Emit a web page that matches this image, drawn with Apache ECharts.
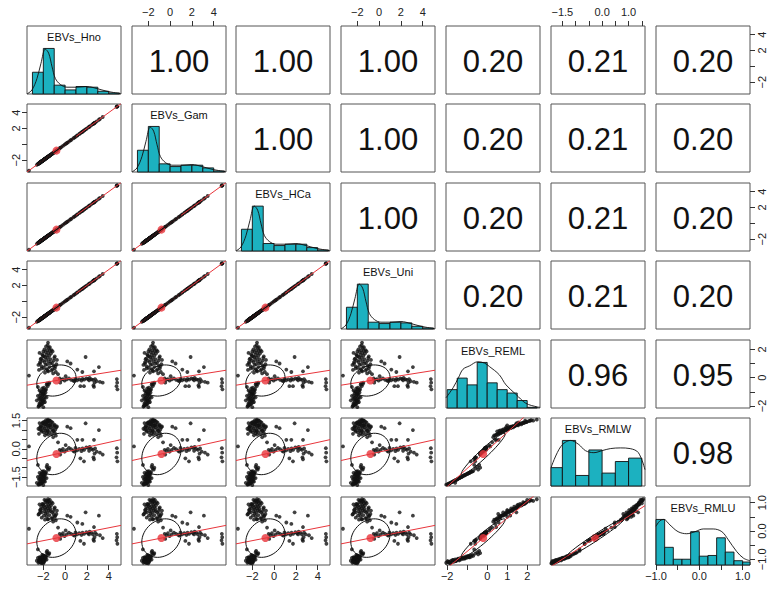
<!DOCTYPE html>
<html><head><meta charset="utf-8">
<script src="https://cdn.jsdelivr.net/npm/echarts@6/dist/echarts.min.js"></script>
<style>html,body{margin:0;padding:0;background:#fff}#c{width:775px;height:590px}</style>
</head><body><div id="c"></div>
<script>
// ---------------- DATA ----------------
const varNames = ['EBVs_Hno','EBVs_Gam','EBVs_HCa','EBVs_Uni','EBVs_REML','EBVs_RMLW','EBVs_RMLU'];

// Individual EBVs. Hno/Gam/HCa/Uni coincide (r = 1.00).
const ebvHno = [
  -2.45,-2.30,-2.20,-2.10,-2.35,-1.95,-2.25,-2.05,-2.15,-1.90,-2.40,-2.00,-2.20,-1.85,-2.10,-2.30,-1.95,-2.05,-2.25,-1.80,-2.15,-1.90,-2.35,-2.00,-1.75,-2.10,-1.95,-1.60,-1.70,-1.50,-1.65,-1.45,-2.60,-2.50,
  -1.57,-1.75,-1.50,-1.90,-1.65,-1.40,-2.00,-1.80,-1.55,-1.30,-2.10,-1.70,-1.45,-1.95,-1.85,-1.60,-2.20,-1.35,-1.75,-2.05,-1.50,-1.90,-1.20,-2.30,-1.65,-1.80,-1.05,-2.15,-1.45,-1.95,-0.95,-1.70,-2.40,-1.25,-1.55,-0.85,-1.85,-1.10,-2.05,-1.60,-1.35,-0.80,
  -0.50,-0.35,-0.20,-0.05,0.15,0.55,0.75,0.95,1.10,1.30,1.60,1.75,1.95,2.10,2.25,2.40,2.55,2.70,2.60,2.65,3.20,3.45,2.90,1.40,
  1.88,0.20,1.12,2.65,3.10,1.73,0.50,1.58,
  4.75,4.78,4.72,4.80,-3.32,
  -2.35,-1.15,-0.95,-2.25,-1.05,-1.25,-2.45,-0.90,-1.40,-2.15,-1.00,-1.60,-2.30,-1.15,-0.75,
  -2.40,-2.20,-1.85,-2.05,-2.30,-1.70,-2.50,-1.95,-2.15,-1.80,-2.35,-2.00,
  -0.65,-0.45,0.05,0.35,0.85,1.50,2.20,2.75
];
const ebvGam = ebvHno;
const ebvHCa = ebvHno;
const ebvUni = ebvHno;
const ebvREML = [
  -2.05,-1.95,-1.90,-1.85,-1.80,-1.75,-1.70,-1.65,-1.60,-1.55,-1.50,-1.45,-1.40,-1.35,-1.30,-1.25,-1.20,-1.15,-1.10,-1.05,-1.00,-0.95,-0.90,-0.85,-0.80,-0.75,-0.70,-0.60,-0.50,-0.45,-0.40,-0.35,-1.60,-0.65,
  2.48,2.20,2.10,2.00,1.95,1.90,1.85,1.80,1.75,1.70,1.65,1.60,1.55,1.50,1.45,1.40,1.35,1.30,1.25,1.20,1.15,1.10,1.05,1.00,0.95,0.90,0.85,0.80,0.75,0.70,0.65,0.60,0.55,0.50,0.45,0.40,0.35,0.30,1.55,2.30,1.00,0.95,
  -0.05,-0.15,-0.10,-0.20,-0.12,-0.15,-0.20,-0.10,-0.18,-0.12,-0.08,-0.14,-0.05,-0.10,-0.02,-0.12,-0.15,-0.35,-0.55,-0.65,-0.30,-0.35,-0.25,-0.60,
  1.46,1.15,0.57,0.45,0.75,-0.60,1.00,0.40,
  -0.10,-0.35,-0.60,-0.82,0.15,
  1.75,1.85,1.50,1.30,1.20,1.95,0.90,0.80,2.15,0.65,1.40,0.50,1.10,0.60,1.25,
  -1.98,-1.88,-1.72,-1.58,-1.48,-1.38,-1.28,-1.12,-0.98,-0.88,-1.92,-2.08,
  0.25,-0.35,0.10,-0.05,-0.25,-0.20,-0.18,-0.10
];
const ebvRMLW = [
  -1.90,-1.86,-1.83,-1.80,-1.78,-1.75,-1.72,-1.70,-1.66,-1.65,-1.62,-1.58,-1.55,-1.52,-1.50,-1.47,-1.44,-1.40,-1.38,-1.35,-1.32,-1.30,-1.27,-1.24,-1.22,-1.20,-1.18,-1.05,-0.95,-1.10,-0.85,-1.00,-1.80,-0.85,
  1.55,1.52,1.48,1.45,1.42,1.50,1.38,1.40,1.35,1.30,1.36,1.32,1.25,1.28,1.30,1.22,1.20,1.15,1.18,1.12,1.10,1.08,1.05,1.02,1.00,0.98,0.95,0.92,0.90,0.88,0.85,0.83,0.80,0.78,0.76,0.70,0.72,0.62,1.40,1.50,1.25,1.15,
  -0.05,-0.10,0.00,-0.15,-0.05,-0.02,-0.10,0.05,-0.08,0.00,0.02,-0.05,0.08,0.05,0.10,0.00,-0.05,-0.25,-0.45,-0.55,-0.20,-0.30,-0.15,-0.50,
  1.36,1.18,0.48,0.48,1.00,-0.66,1.10,0.48,
  0.04,-0.20,-0.45,-0.66,0.13,
  1.37,1.40,1.27,1.21,1.17,1.43,1.07,1.03,1.50,0.98,1.24,0.93,1.13,0.96,1.19,
  -1.88,-1.84,-1.74,-1.67,-1.61,-1.55,-1.49,-1.41,-1.33,-1.27,-1.86,-1.92,
  0.35,-0.30,0.20,0.05,-0.15,-0.12,-0.10,0.02
];
const ebvRMLU = [
  -1.12,-1.10,-1.08,-1.12,-1.05,-1.10,-1.03,-1.08,-1.00,-1.06,-1.02,-0.98,-1.04,-0.96,-1.00,-0.94,-0.98,-0.92,-0.96,-0.90,-0.94,-0.88,-0.92,-0.86,-0.90,-0.84,-0.88,-0.80,-0.75,-0.82,-0.70,-0.78,-1.05,-0.65,
  1.12,1.08,1.05,1.10,1.00,0.98,0.95,1.02,0.92,0.90,0.96,0.88,0.85,0.90,0.82,0.80,0.86,0.78,0.75,0.80,0.72,0.70,0.66,0.74,0.64,0.62,0.58,0.66,0.56,0.54,0.50,0.52,0.60,0.45,0.42,0.38,0.40,0.33,0.93,1.06,0.70,0.60,
  -0.10,-0.15,-0.08,-0.18,-0.12,-0.10,-0.14,-0.05,-0.12,-0.08,-0.06,-0.10,-0.04,-0.08,-0.02,-0.06,-0.12,-0.22,-0.30,-0.35,-0.15,-0.25,-0.12,-0.35,
  0.66,0.54,0.30,0.14,0.54,-0.45,0.50,0.25,
  -0.10,-0.22,-0.33,-0.45,0.08,
  0.94,0.98,0.83,0.75,0.70,1.02,0.58,0.54,1.10,0.47,0.79,0.41,0.66,0.45,0.72,
  -1.06,-1.13,-1.02,-1.05,-0.99,-1.01,-0.95,-0.97,-0.91,-0.93,-1.09,-1.14,
  0.12,-0.28,0.02,-0.06,-0.16,-0.14,-0.12,-0.06
];

// Summary statistics (means, SDs) and correlations shown in the upper panels
const varMeans = [-0.80,-0.80,-0.80,-0.80,-0.20,-0.27,-0.25];
const varSDs   = [1.80,1.80,1.80,1.80,1.10,1.10,0.68];
const corrHno  = [1.00,1.00,1.00,1.00,0.20,0.21,0.20];
const corrGam  = [1.00,1.00,1.00,1.00,0.20,0.21,0.20];
const corrHCa  = [1.00,1.00,1.00,1.00,0.20,0.21,0.20];
const corrUni  = [1.00,1.00,1.00,1.00,0.20,0.21,0.20];
const corrREML = [0.20,0.20,0.20,0.20,1.00,0.96,0.95];
const corrRMLW = [0.21,0.21,0.21,0.21,0.96,1.00,0.98];
const corrRMLU = [0.20,0.20,0.20,0.20,0.95,0.98,1.00];

// Histograms on the diagonal (bin start, bin width, scaled density heights)
const histHno  = {start:-3, width:1,   heights:[0.32,0.67,0.13,0.06,0.11,0.10,0.04,0.015]};
const histGam  = {start:-3, width:1,   heights:[0.32,0.67,0.12,0.08,0.10,0.10,0.06,0.015]};
const histHCa  = {start:-3, width:1,   heights:[0.32,0.66,0.11,0.08,0.10,0.10,0.05,0.015]};
const histUni  = {start:-3, width:1,   heights:[0.32,0.66,0.10,0.08,0.10,0.09,0.04,0.015]};
const histREML = {start:-2, width:0.5, heights:[0.27,0.44,0.34,0.67,0.37,0.27,0.22,0.11,0.01]};
const histRMLW = {start:-2, width:0.5, heights:[0.27,0.67,0.155,0.53,0.19,0.36,0.41]};
const histRMLU = {start:-1, width:0.2, heights:[0.67,0.26,0.085,0.085,0.49,0.13,0.14,0.40,0.19,0.063,0.044]};

// Density curves (x, scaled density)
const densAx    = [-3.5,-3.04,-2.58,-2.22,-1.82,-1.51,-1.2,-0.9,-0.44,0.17,1.09,2.0,2.92,3.84,5.1];
const densAy    = [0.0,0.06,0.23,0.45,0.66,0.60,0.40,0.23,0.14,0.10,0.10,0.11,0.08,0.04,0.005];
const densREMLx = [-2.06,-1.7,-1.43,-1.21,-0.88,-0.47,-0.13,0.11,0.6,0.94,1.44,1.93,2.5,2.64];
const densREMLy = [0.15,0.3,0.45,0.57,0.62,0.68,0.66,0.61,0.49,0.34,0.2,0.07,0.015,0.01];
const densRMLWx = [-1.93,-1.56,-1.19,-0.88,-0.63,-0.31,0.0,0.31,0.69,1.06,1.37,1.62];
const densRMLWy = [0.27,0.58,0.67,0.61,0.52,0.49,0.52,0.55,0.56,0.55,0.49,0.24];
const densRMLUx = [-1.0,-0.91,-0.82,-0.68,-0.49,-0.29,-0.1,0.09,0.32,0.52,0.67,0.86,1.02,1.17];
const densRMLUy = [0.57,0.65,0.67,0.59,0.49,0.46,0.49,0.53,0.53,0.49,0.37,0.2,0.1,0.063];

// Axis ticks and tick labels
const ticksA = [-2,0,2,4];
const labelsA = [-2,0,2,4];
const labelsSideA = [-2,2,4];
const ticksREML = [-2,-1,0,1,2];
const labelsBottomREML = [-2,0,1,2];
const labelsSideREML = [-2,0,2];
const ticksRMLW = [-1.5,-1.0,-0.5,0,0.5,1.0,1.5];
const labelsTopRMLW = [-1.5,0,1.0];
const labelsSideRMLW = [-1.5,0,1.5];
const ticksRMLU = [-1.0,-0.5,0,0.5,1.0];
const labelsRMLU = [-1.0,0,1.0];

// ---------------- BUILD ----------------
const vals = [ebvHno, ebvGam, ebvHCa, ebvUni, ebvREML, ebvRMLW, ebvRMLU];
const corr = [corrHno, corrGam, corrHCa, corrUni, corrREML, corrRMLW, corrRMLU];
const hists = [histHno, histGam, histHCa, histUni, histREML, histRMLW, histRMLU];
const dens = [[densAx,densAy],[densAx,densAy],[densAx,densAy],[densAx,densAy],[densREMLx,densREMLy],[densRMLWx,densRMLWy],[densRMLUx,densRMLUy]];
const xRange = k => k < 4 ? [-3.5, 5.13] : k === 4 ? [-2.06, 2.64] : k === 5 ? [-1.93, 1.62] : [-1.0, 1.17];
const yRange = k => k < 4 ? [-3.5, 5.09] : k === 4 ? [-2.14, 2.66] : k === 5 ? [-1.97, 1.64] : [-1.2, 1.2];

const histColor = '#1cb1c0', redColor = '#e8353b', ink = '#111';
const FONT = '"Liberation Sans", Arial, Helvetica, sans-serif';
const N = 7;
const colLeft = j => Math.round(26.7 + 104.83 * j);
const rowTop = i => Math.round(26 + 78.45 * i);
const PW = 94, PH = 68;

const grids = [], xAxes = [], yAxes = [], series = [], graphics = [];
for (let i = 0; i < N; i++) {
  for (let j = 0; j < N; j++) {
    const g = i * N + j;
    grids.push({left: colLeft(j), top: rowTop(i), width: PW, height: PH, show: true,
      borderColor: '#555', borderWidth: 1, backgroundColor: 'transparent', containLabel: false});
    const xr = xRange(j), yr = i === j ? [0, 1] : yRange(i);
    xAxes.push({type: 'value', gridIndex: g, min: xr[0], max: xr[1], show: false, axisLine: {onZero: false}});
    yAxes.push({type: 'value', gridIndex: g, min: yr[0], max: yr[1], show: false, axisLine: {onZero: false}});
  }
}

const fmt = dec => v => (v < -1e-9 ? '\u2212' : '') + Math.abs(v).toFixed(dec);
function edgeAxis(kind, g, position, range, ticks, labels, dec) {
  const ax = {type: 'value', gridIndex: g, position: position, min: range[0], max: range[1],
    axisLine: {show: false, onZero: false}, splitLine: {show: false},
    axisTick: {show: true, customValues: ticks, length: 5, lineStyle: {color: '#333', width: 1}},
    axisLabel: {show: true, customValues: labels, formatter: fmt(dec), fontSize: 11, color: '#222',
      fontFamily: FONT, margin: kind === 'x' ? (position === 'top' ? 9 : 5) : 6,
      rotate: kind === 'y' ? 90 : 0}};
  if (kind === 'x') xAxes.push(ax); else yAxes.push(ax);
}
// top axes (row 1, columns 2, 4, 6)
edgeAxis('x', 0*N+1, 'top', xRange(1), ticksA, labelsA, 0);
edgeAxis('x', 0*N+3, 'top', xRange(3), ticksA, labelsA, 0);
edgeAxis('x', 0*N+5, 'top', xRange(5), ticksRMLW, labelsTopRMLW, 1);
// bottom axes (row 7, columns 1, 3, 5, 7)
edgeAxis('x', 6*N+0, 'bottom', xRange(0), ticksA, labelsA, 0);
edgeAxis('x', 6*N+2, 'bottom', xRange(2), ticksA, labelsA, 0);
edgeAxis('x', 6*N+4, 'bottom', xRange(4), ticksREML, labelsBottomREML, 0);
edgeAxis('x', 6*N+6, 'bottom', xRange(6), ticksRMLU, labelsRMLU, 1);
// left axes (column 1, rows 2, 4, 6)
edgeAxis('y', 1*N+0, 'left', yRange(1), ticksA, labelsSideA, 0);
edgeAxis('y', 3*N+0, 'left', yRange(3), ticksA, labelsSideA, 0);
edgeAxis('y', 5*N+0, 'left', yRange(5), ticksRMLW, labelsSideRMLW, 1);
// right axes (column 7, rows 1, 3, 5, 7)
edgeAxis('y', 0*N+6, 'right', yRange(0), ticksA, labelsSideA, 0);
edgeAxis('y', 2*N+6, 'right', yRange(2), ticksA, labelsSideA, 0);
edgeAxis('y', 4*N+6, 'right', yRange(4), ticksREML, labelsSideREML, 0);
edgeAxis('y', 6*N+6, 'right', yRange(6), ticksRMLU, labelsRMLU, 1);

for (let i = 0; i < N; i++) {
  for (let j = 0; j < N; j++) {
    const g = i * N + j;
    const base = {xAxisIndex: g, yAxisIndex: g, silent: true, animation: false};
    if (i > j) {
      // lower panel: scatter, regression line, correlation ellipse, mean
      const pts = vals[j].map((x, p) => [x, vals[i][p]]);
      series.push(Object.assign({type: 'scatter', data: pts, symbol: 'circle', symbolSize: 3.8,
        itemStyle: {color: ink}}, base));
      const r = corr[i][j], mx = varMeans[j], my = varMeans[i], sx = varSDs[j], sy = varSDs[i];
      const slope = r * sy / sx;
      const xr = xRange(j);
      series.push(Object.assign({type: 'line', data: [[xr[0], my + slope * (xr[0] - mx)], [xr[1], my + slope * (xr[1] - mx)]],
        symbol: 'none', clip: true, lineStyle: {color: redColor, width: 1}}, base));
      const th = 1 / Math.sqrt(2), a1 = Math.sqrt(1 + r) * th, a2 = Math.sqrt(Math.max(0, 1 - r)) * th;
      const ell = [];
      for (let s = 0; s <= 51; s++) {
        const ang = s * 2 * Math.PI / 51;
        const ex = Math.cos(ang) * a1 - Math.sin(ang) * a2;
        const ey = Math.cos(ang) * a1 + Math.sin(ang) * a2;
        ell.push([mx + ex * sx, my + ey * sy]);
      }
      series.push(Object.assign({type: 'line', data: ell, symbol: 'none', clip: true,
        lineStyle: {color: ink, width: 1}}, base));
      series.push(Object.assign({type: 'scatter', data: [[mx, my]], symbolSize: 8,
        itemStyle: {color: redColor}}, base));
    } else if (i === j) {
      const h = hists[i];
      const bars = h.heights.map((v, b) => [h.start + b * h.width, h.start + (b + 1) * h.width, v]);
      series.push(Object.assign({type: 'custom', data: bars, encode: {x: [0, 1], y: 2},
        renderItem: (params, api) => {
          const p0 = api.coord([api.value(0), api.value(2)]);
          const p1 = api.coord([api.value(1), 0]);
          const cs = params.coordSys;
          const rect = echarts.graphic.clipRectByRect(
            {x: p0[0], y: p0[1], width: p1[0] - p0[0], height: p1[1] - p0[1]},
            {x: cs.x, y: cs.y, width: cs.width, height: cs.height});
          if (!rect) return;
          return {type: 'rect', shape: rect, style: {fill: histColor, stroke: ink, lineWidth: 0.9}};
        }}, base));
      const d = dens[i];
      series.push(Object.assign({type: 'line', data: d[0].map((x, k) => [x, d[1][k]]), symbol: 'none',
        smooth: 0.35, clip: true, lineStyle: {color: ink, width: 0.9}}, base));
      graphics.push({type: 'text', x: colLeft(j) + PW / 2, y: rowTop(i) + 11,
        style: {text: varNames[i], font: '11px ' + FONT, fill: ink, align: 'center', verticalAlign: 'middle'}});
    } else {
      graphics.push({type: 'text', x: colLeft(j) + PW / 2, y: rowTop(i) + PH / 2 + 1,
        style: {text: corr[i][j].toFixed(2), font: '31px ' + FONT, fill: ink, align: 'center', verticalAlign: 'middle'}});
    }
  }
}

const chart = echarts.init(document.getElementById('c'), null, {renderer: 'svg', width: 775, height: 590});
chart.setOption({animation: false, backgroundColor: '#fff', grid: grids, xAxis: xAxes, yAxis: yAxes,
  series: series, graphic: graphics});
</script>
</body></html>
